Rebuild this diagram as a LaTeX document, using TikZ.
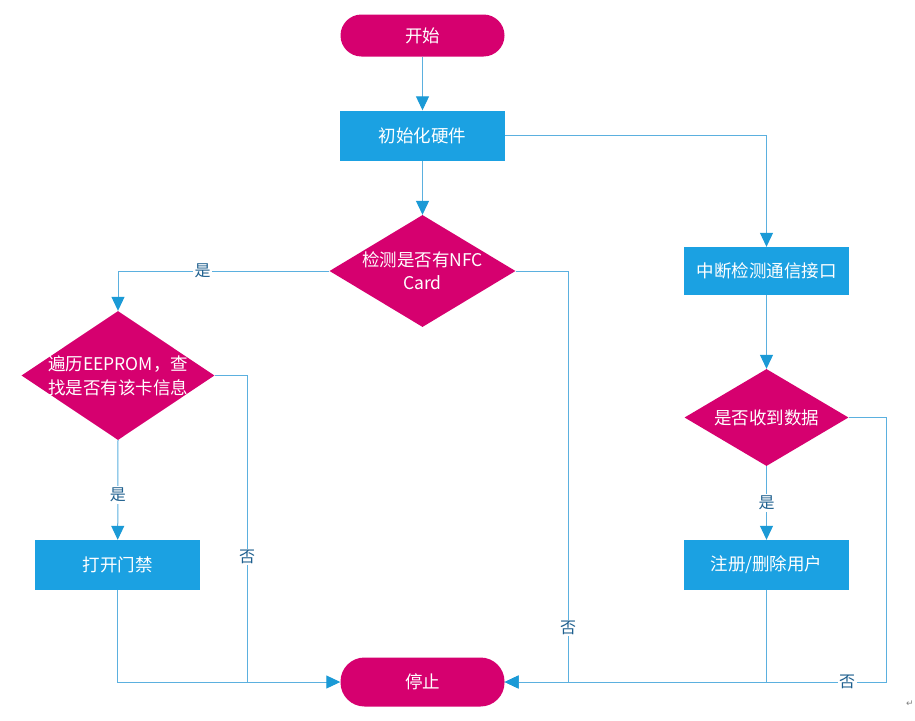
\documentclass[tikz,border=0pt]{standalone}
\usepackage{fontspec}
\setmainfont{Noto Sans CJK SC}
\newfontfamily\djv{DejaVu Sans}
\usetikzlibrary{shapes.geometric,arrows.meta}
\definecolor{mag}{HTML}{D6006F}
\definecolor{boxblue}{HTML}{1BA1E2}
\definecolor{lineblue}{HTML}{5BB0DF}
\definecolor{tipblue}{HTML}{1B9AD6}
\definecolor{lbl}{HTML}{1E5F8E}
\tikzset{
  pill/.style={draw=none,fill=mag,text=white,rounded corners=21pt,minimum width=164pt,minimum height=42pt,inner sep=0pt,font=\fontsize{17.5}{21}\selectfont},
  pillb/.style={pill,rounded corners=24pt,minimum height=49pt},
  bluebox/.style={draw=none,fill=boxblue,text=white,minimum width=165pt,minimum height=50pt,inner sep=0pt,font=\fontsize{17.5}{21}\selectfont},
  dia/.style={shape=diamond,draw=none,fill=mag,inner sep=0pt},
  diatext/.style={text=white,align=center,font=\fontsize{17.5}{23}\selectfont},
  conn/.style={draw=lineblue,line width=1pt},
  arr/.style={conn,-{Triangle[length=14pt,width=13pt,color=tipblue,fill=tipblue]}},
  yn/.style={fill=white,text=lbl,inner sep=1.5pt,font=\fontsize{16}{19}\selectfont}
}
\begin{document}
\begin{tikzpicture}[x=1pt,y=-1pt]
\useasboundingbox (0,0) rectangle (915,720);
\fill[white] (0,0) rectangle (915,720);
% nodes
\node[pill] (start) at (422.5,35.5) {开始};
\node[bluebox] (init) at (422.5,135.5) {初始化硬件};
\node[dia,minimum width=186pt,minimum height=112pt] (detect) at (422.5,271) {};
\node[diatext] (detectT) at (422.5,271) {检测是否有NFC\\Card};
\node[bluebox,minimum height=48pt] (intr) at (766.5,271) {中断检测通信接口};
\node[dia,minimum width=193pt,minimum height=129pt] (eep) at (118,375.5) {};
\node[diatext,font=\fontsize{17.5}{24}\selectfont] (eepT) at (118,375.5) {遍历EEPROM，查\\找是否有该卡信息};
\node[dia,minimum width=164pt,minimum height=97pt] (recv) at (766.5,417.5) {};
\node[diatext] (recvT) at (766.5,417.5) {是否收到数据};
\node[bluebox] (open) at (117.7,565) {打开门禁};
\node[bluebox] (reg) at (766.5,565) {注册/删除用户};
\node[pillb] (stop) at (422.5,682) {停止};
% helper coordinates
\coordinate (dR) at (568,271);
\coordinate (eR) at (247,375.5);
\coordinate (eB) at (247,682);
\coordinate (rR) at (886,417.5);
\coordinate (rB) at (886,682);
\coordinate (gB) at (766.5,682);
% connectors
\draw[arr] (start) -- (init);
\draw[arr] (init) -- (detect.north);
\draw[arr] (init.east) -| (intr.north);
\draw[arr] (intr) -- (recv.north);
\draw[arr] (detect.west) -| (eep.north) node[yn,pos=0.3] {是};
\draw[arr] (detect.east) -- (dR) |- (stop.east);
\node[yn] (no1) at (568,628) {否};
\draw[conn] (eep.east) -- (eR) -- (eB);
\node[yn] (no2) at (247,557) {否};
\draw[arr] (eep.south) -- (open.north) node[yn,pos=0.55] {是};
\draw[arr] (open.south) |- (stop.west);
\draw[arr] (recv.south) -- (reg.north) node[yn,pos=0.5] {是};
\draw[arr] (recv.east) -- (rR) -- (rB) -- (stop.east);
\node[yn] (no3) at (847,682) {否};
\draw[conn] (reg.south) -- (gB);
\node[text=gray,inner sep=0pt,font=\djv\fontsize{9}{10}\selectfont] (ret) at (910,704) {↵};
\end{tikzpicture}
\end{document}
